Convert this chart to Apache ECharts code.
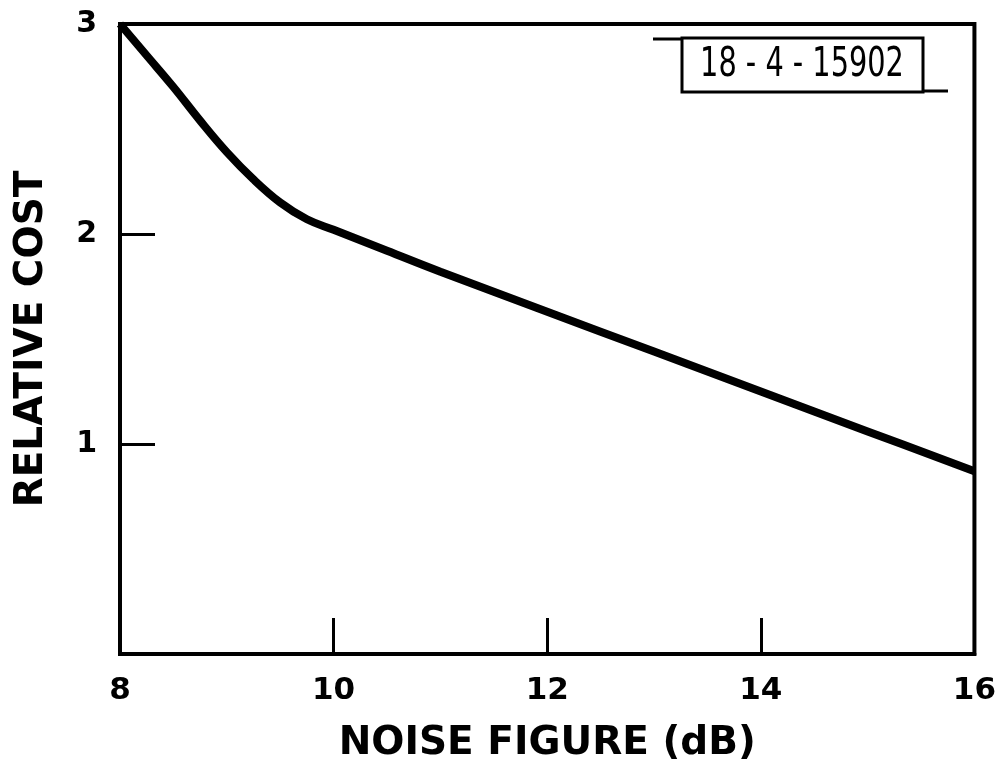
<!DOCTYPE html>
<html><head><meta charset="utf-8">
<script src="https://cdn.jsdelivr.net/npm/echarts@6/dist/echarts.min.js"></script>
<style>html,body{margin:0;padding:0;background:#fff}#c{width:999px;height:768px}</style>
</head><body><div id="c"></div>
<script>
var noiseFigure = [8, 8.25, 8.5, 8.75, 9, 9.25, 9.5, 9.75, 10, 10.5, 11, 12, 13, 14, 15, 16];
var relativeCost = [3.0, 2.85, 2.70, 2.54, 2.39, 2.26, 2.15, 2.07, 2.02, 1.92, 1.82, 1.63, 1.44, 1.25, 1.06, 0.87];
var xTicks = [8, 10, 12, 14, 16];
var yTicks = [1, 2, 3];
var tagText = '18 - 4 - 15902';

var chart = echarts.init(document.getElementById('c'), null, {renderer: 'canvas'});
chart.setOption({
  backgroundColor: '#fff',
  animation: false,
  grid: {left: 120, right: 24, top: 24, bottom: 114, show: true, borderColor: '#000', borderWidth: 4},
  xAxis: {
    type: 'value', min: 8, max: 16, interval: 2,
    name: 'NOISE FIGURE (dB)', nameLocation: 'middle', nameGap: 70,
    nameTextStyle: {fontFamily: 'DejaVu Sans', fontWeight: 'bold', fontSize: 39, color: '#000'},
    axisLine: {show: true, lineStyle: {color: '#000', width: 4}},
    axisTick: {show: true, inside: true, length: 36, lineStyle: {color: '#000', width: 3},
      customValues: xTicks.slice(1, -1)},
    axisLabel: {color: '#000', fontFamily: 'DejaVu Sans', fontWeight: 'bold', fontSize: 31, margin: 21,
      customValues: xTicks},
    splitLine: {show: false}
  },
  yAxis: {
    type: 'value', min: 0, max: 3, interval: 1,
    name: 'RELATIVE COST', nameLocation: 'middle', nameGap: 69,
    nameTextStyle: {fontFamily: 'DejaVu Sans', fontWeight: 'bold', fontSize: 39, color: '#000'},
    axisLine: {show: true, lineStyle: {color: '#000', width: 4}},
    axisTick: {show: true, inside: true, length: 35, lineStyle: {color: '#000', width: 3},
      customValues: yTicks.slice(0, -1)},
    axisLabel: {color: '#000', fontFamily: 'DejaVu Sans', fontWeight: 'bold', fontSize: 30, margin: 23,
      customValues: yTicks},
    splitLine: {show: false}
  },
  series: [{
    type: 'line',
    data: noiseFigure.map(function (x, i) { return [x, relativeCost[i]]; }),
    smooth: 0.4,
    showSymbol: false,
    lineStyle: {color: '#000', width: 8},
    clip: false
  }],
  graphic: [
    {type: 'rect', shape: {x: 682, y: 38, width: 241, height: 54}, style: {fill: '#fff', stroke: '#000', lineWidth: 3}},
    {type: 'line', shape: {x1: 653, y1: 39, x2: 682, y2: 39}, style: {stroke: '#000', lineWidth: 3}},
    {type: 'line', shape: {x1: 923, y1: 91, x2: 948, y2: 91}, style: {stroke: '#000', lineWidth: 3}},
    {type: 'text', x: 802, y: 65, scaleY: 1.3, style: {text: tagText, fontFamily: 'DejaVu Sans Condensed', fontSize: 32,
      fill: '#000', align: 'center', verticalAlign: 'middle'}}
  ]
});
</script></body></html>
